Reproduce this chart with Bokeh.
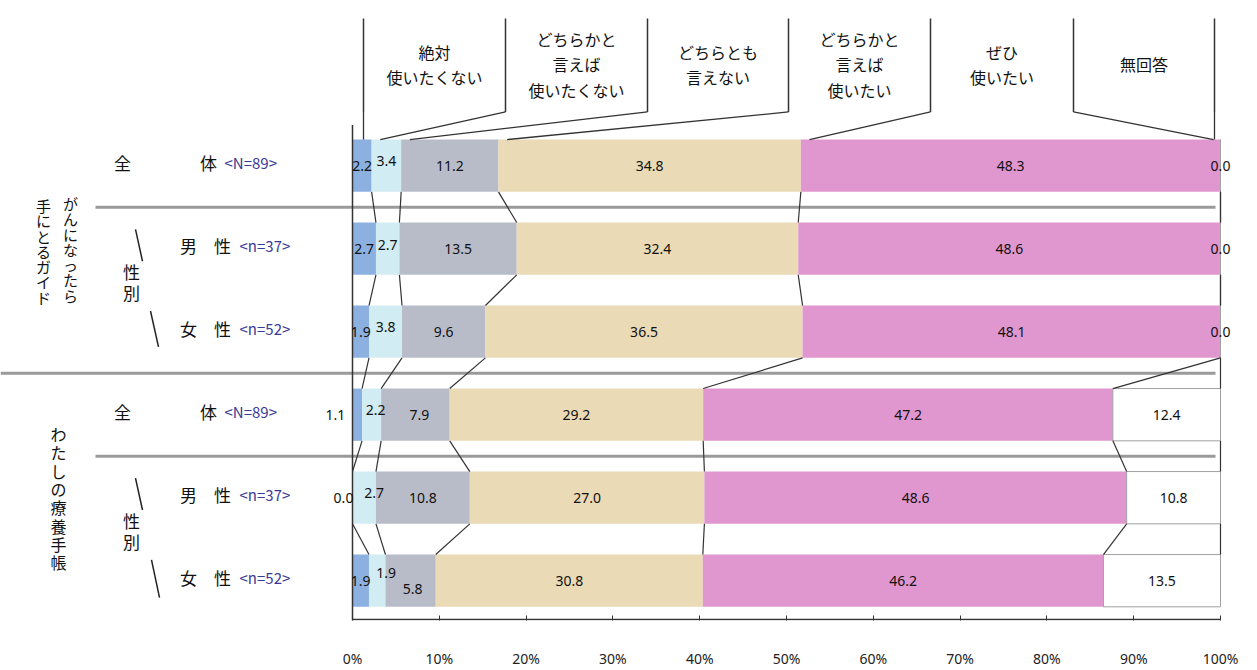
import numpy as np
from bokeh.plotting import figure
from bokeh.models import Range1d, FixedTicker, PrintfTickFormatter, ColumnDataSource
from bokeh.core.properties import value
from bokeh.embed import file_html
from bokeh.resources import INLINE

# ---------------- data ----------------
categories = ["絶対\n使いたくない", "どちらかと\n言えば\n使いたくない", "どちらとも\n言えない",
              "どちらかと\n言えば\n使いたい", "ぜひ\n使いたい", "無回答"]
groups = ["がんになったら\n手にとるガイド", "わたしの療養手帳"]
row_first = ["全", "男", "女", "全", "男", "女"]
row_second = ["体", "性", "性", "体", "性", "性"]
row_n = ["<N=89>", "<n=37>", "<n=52>", "<N=89>", "<n=37>", "<n=52>"]
sub_label = "性別"

v_never = [2.2, 2.7, 1.9, 1.1, 0.0, 1.9]
v_rather_not = [3.4, 2.7, 3.8, 2.2, 2.7, 1.9]
v_neutral = [11.2, 13.5, 9.6, 7.9, 10.8, 5.8]
v_rather_yes = [34.8, 32.4, 36.5, 29.2, 27.0, 30.8]
v_yes = [48.3, 48.6, 48.1, 47.2, 48.6, 46.2]
v_na = [0.0, 0.0, 0.0, 12.4, 10.8, 13.5]
tick_values = [0, 10, 20, 30, 40, 50, 60, 70, 80, 90, 100]

series = [v_never, v_rather_not, v_neutral, v_rather_yes, v_yes, v_na]

# ---------------- styling / layout ----------------
colors = ["#8cb1e0", "#d2ecf4", "#b8bcc9", "#eadab6", "#e096cf", "#ffffff"]
FONT = value("Noto Sans CJK JP")
W, H = 1257, 670
X0_PX, X100_PX = 352, 1220
PXP = (X100_PX - X0_PX) / 100.0
ROW0_PX, ROW_STEP = 166, 83.4
FRAME_BOTTOM = 623
BAR_H = 0.63
LH = 1.45  # CJK font line box factor


def X(px):
    return (px - X0_PX) / PXP


def Y(px):
    return (px - ROW0_PX) / ROW_STEP


def lh(step_px, size_px):
    return step_px / (size_px * LH)


p = figure(width=W, height=H, output_backend="svg", toolbar_location=None,
           x_range=Range1d(X(0), X(W)), y_range=Range1d(Y(FRAME_BOTTOM), Y(0)),
           y_axis_location=None, min_border_left=0, min_border_right=0,
           min_border_top=0, min_border_bottom=H - FRAME_BOTTOM)
p.outline_line_color = None
p.xgrid.visible = False
p.ygrid.visible = False
p.background_fill_color = "white"

ax = p.xaxis[0]
ax.ticker = FixedTicker(ticks=tick_values)
ax.formatter = PrintfTickFormatter(format="%d%%")
ax.axis_line_color = None
ax.major_tick_in = 5
ax.major_tick_out = 0
ax.major_tick_line_color = "#333333"
ax.minor_tick_line_color = None
ax.major_label_standoff = 28
ax.major_label_text_font = "Noto Sans"
ax.major_label_text_font_size = "14px"
ax.major_label_text_color = "#222222"

nrows = len(v_never)
rows = np.arange(nrows)
vals = np.array(series, dtype=float).T  # rows x cats
totals = vals.sum(axis=1)
cum = np.cumsum(vals, axis=1) / totals[:, None] * 100.0
left = np.hstack([np.zeros((nrows, 1)), cum[:, :-1]])

# separators
p.segment(x0=[X(95), X(0), X(95)], y0=[0.5, 2.5, 3.5], x1=[X(1215)] * 3, y1=[0.5, 2.5, 3.5],
          line_color="#9a9a9a", line_width=3)

# bars
for k in range(len(series)):
    src = ColumnDataSource(dict(y=rows, left=left[:, k], right=cum[:, k]))
    if k == len(series) - 1:
        p.hbar(y="y", left="left", right="right", height=BAR_H, source=src,
               fill_color=colors[k], line_color="#a0a0a0", line_width=1)
    else:
        p.hbar(y="y", left="left", right="right", height=BAR_H, source=src,
               fill_color=colors[k], line_color=None)

# series lines between rows
sx0, sy0, sx1, sy1 = [], [], [], []
for i in range(nrows - 1):
    for k in range(len(series)):
        sx0.append(cum[i, k]); sy0.append(i + BAR_H / 2)
        sx1.append(cum[i + 1, k]); sy1.append(i + 1 - BAR_H / 2)
p.segment(x0=sx0, y0=sy0, x1=sx1, y1=sy1, line_color="#333333", line_width=1.2)

# axis lines
p.segment(x0=[0], y0=[Y(FRAME_BOTTOM - 1)], x1=[100], y1=[Y(FRAME_BOTTOM - 1)],
          line_color="#333333", line_width=1.5)
p.segment(x0=[0], y0=[Y(125)], x1=[0], y1=[Y(FRAME_BOTTOM)], line_color="#333333", line_width=1.5)

# value labels
nudge = {(0, 1): (0, -5), (1, 1): (0, -4), (2, 1): (0, -5), (3, 0): (-22, 0),
         (3, 1): (4, -5), (3, 2): (4, 0), (4, 0): (-9, 0), (4, 1): (10, -5),
         (5, 1): (9, -8), (5, 2): (2, 8)}
lx, ly, lt, ox, oy = [], [], [], [], []
for i in range(nrows):
    for k in range(len(series)):
        lx.append((left[i, k] + cum[i, k]) / 2)
        ly.append(i)
        lt.append(f"{vals[i, k]:.1f}")
        dx, dy = nudge.get((i, k), (0, 0))
        ox.append(dx); oy.append(dy)
p.text(x="x", y="y", text="t", x_offset="ox", y_offset="oy",
       source=ColumnDataSource(dict(x=lx, y=ly, t=lt, ox=ox, oy=oy)),
       text_align="center", text_baseline="middle", text_font=value("Noto Sans"),
       text_font_size="14px", text_color="#111111")

# header callouts
edges_px = [363, 505, 647, 788, 930, 1073, 1214]
edges = [X(e) for e in edges_px]
top_y, box_bottom, bar_top = Y(18), Y(112), -BAR_H / 2
p.segment(x0=edges, y0=[top_y] * 7, x1=edges, y1=[box_bottom] * 7, line_color="#333333", line_width=1.5)
targets = [min(1.0, vals[0, k] / 2) + left[0, k] for k in range(5)]
px0 = [edges[0]] + edges[1:5] + [edges[5], edges[6]]
px1 = [edges[0]] + targets[1:5] + [99.2, edges[6]]
p.segment(x0=px0, y0=[box_bottom] * 7, x1=px1, y1=[bar_top] * 7, line_color="#333333", line_width=1.3)
hx = [(edges[j] + edges[j + 1]) / 2 for j in range(6)]
p.text(x=hx, y=[Y(64)] * 6, text=categories, text_align="center", text_baseline="middle",
       text_font=FONT, text_font_size="16px", text_line_height=lh(24.5, 16), text_color="#111111")

# row labels
ry = [Y(ROW0_PX - 3) + i for i in rows]
p.text(x=[X(122) if f == "全" else X(188) for f in row_first], y=ry,
       text=row_first, text_align="center", text_baseline="middle", text_font=FONT,
       text_font_size="17px", text_color="#111111")
p.text(x=[X(208) if f == "全" else X(222) for f in row_first], y=ry,
       text=row_second, text_align="center", text_baseline="middle", text_font=FONT,
       text_font_size="17px", text_color="#111111")
p.text(x=[X(224) if f == "全" else X(239) for f in row_first], y=ry,
       text=row_n, text_align="left", text_baseline="middle", text_font=FONT,
       text_font_size="15px", text_color="#3a3a96")

# 性別 vertical with slashes
p.text(x=[X(131), X(131)], y=[Y(283), Y(533)],
       text=["\n".join(sub_label)] * 2, text_align="center", text_baseline="middle",
       text_font=FONT, text_font_size="17px", text_line_height=lh(20, 17), text_color="#111111")
p.segment(x0=[X(135), X(150), X(135), X(151)], y0=[Y(230), Y(312), Y(480), Y(562)],
          x1=[X(142), X(158), X(142), X(159)], y1=[Y(262), Y(348), Y(512), Y(600)],
          line_color="#222222", line_width=1.5)

# group labels (vertical writing)
g1a, g1b = groups[0].split("\n")
p.text(x=[X(70), X(43)], y=[Y(250), Y(252)],
       text=["\n".join(g1a), "\n".join(g1b)],
       text_align="center", text_baseline="middle", text_font=FONT,
       text_font_size="15px", text_line_height=lh(15.8, 15), text_color="#111111")
p.text(x=[X(58)], y=[Y(500)], text=["\n".join(groups[1])],
       text_align="center", text_baseline="middle", text_font=FONT,
       text_font_size="16px", text_line_height=lh(17.7, 16), text_color="#111111")

open("out.html", "w").write(file_html(p, INLINE))
